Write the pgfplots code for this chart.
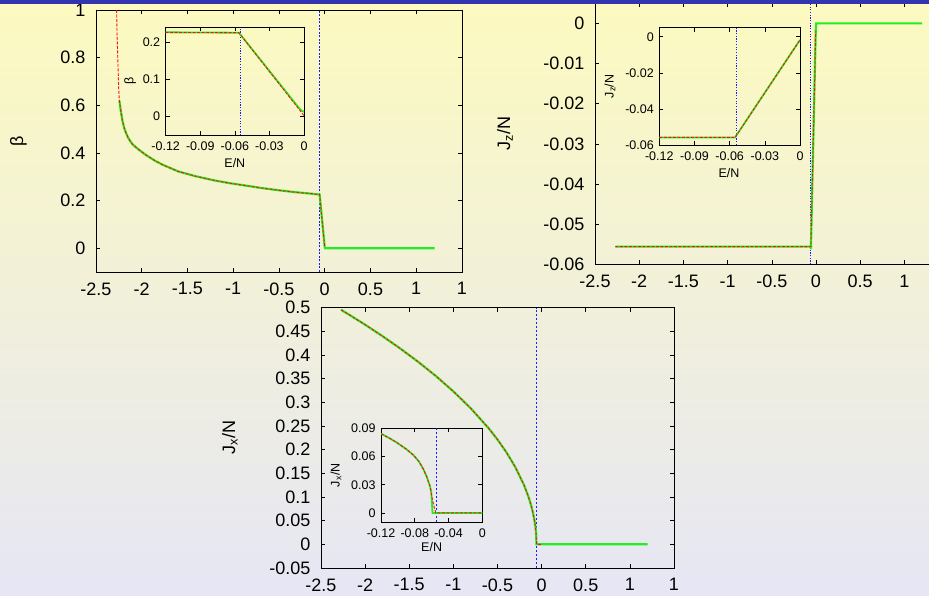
\documentclass[border=0pt]{standalone}
\usepackage{fontspec}
\setmainfont{Liberation Sans}
\usepackage{pgfplots}
\pgfplotsset{compat=1.18}
\definecolor{gnugreen}{HTML}{22EE22}
\definecolor{gnured}{HTML}{FF1010}
\definecolor{gnublue}{HTML}{1A1AFF}
\definecolor{bgtop}{HTML}{FCFABF}
\definecolor{bgbot}{HTML}{E6E6F5}
\definecolor{barblue}{HTML}{3434B0}
\pgfplotsset{
  gp/.style={scale only axis, anchor=south west,
    axis line style={line width=0.8pt, black},
    tick style={line width=0.6pt, black},
    major tick length=4pt, tick align=inside,
    xtick pos=both, ytick pos=both, minor tick num=0, clip=true,
    scaled x ticks=false, scaled y ticks=false},
  mainax/.style={gp, xmin=-2.5, xmax=1.5,
    xtick={-2.5,-2,-1.5,-1,-0.5,0,0.5,1,1.5},
    xticklabels={-2.5,-2,-1.5,-1,-0.5,0,0.5,1,1},
    ticklabel style={font=\fontsize{18}{20}\selectfont},
    label style={font=\fontsize{18}{20}\selectfont},
    xticklabel style={yshift=-7pt}, yticklabel style={xshift=-7pt}},
  insetax/.style={gp, xmin=-0.12, xmax=0,
    ticklabel style={font=\fontsize{12.5}{14}\selectfont},
    label style={font=\fontsize{12.5}{14}\selectfont},
    xticklabel style={yshift=-3pt}, yticklabel style={xshift=-2pt}},
  grn/.style={color=gnugreen, line width=2.2pt, no markers},
  red/.style={color=gnured, line width=0.9pt, dash pattern=on 3pt off 1.5pt, no markers},
  vdot/.style={draw=gnublue, color=gnublue, line width=1pt, dash pattern=on 1.2pt off 1.5pt, no markers},
  vdash/.style={draw=gnublue, color=gnublue, line width=1pt, dash pattern=on 2.5pt off 1.5pt, no markers},
}
\begin{document}
\begin{tikzpicture}
\useasboundingbox (0,0) rectangle (929pt,-596pt);
\clip (0,0) rectangle (929pt,-596pt);
\shade[top color=bgtop, bottom color=bgbot] (0,0) rectangle (929pt,-596pt);

% ---------- Panel 1: beta ----------
\begin{axis}[mainax, at={(96pt,-272pt)}, width=366pt, height=262pt,
  ymin=-0.1, ymax=1, ytick={0,0.2,0.4,0.6,0.8,1}, yticklabels={0,0.2,0.4,0.6,0.8,1},
  ylabel={β}, ylabel style={at={(axis description cs:-0.212,0.5)}, anchor=center}]
\addplot[vdash, dash pattern=on 2pt off 1.5pt] coordinates {(-0.057,-0.1) (-0.057,1)};
\addplot[grn] coordinates {(-2.245,0.620) (-2.238,0.602) (-2.230,0.580) (-2.220,0.555) (-2.210,0.533)
 (-2.191,0.504) (-2.170,0.482) (-2.150,0.465) (-2.125,0.449) (-2.100,0.436) (-2.065,0.424)
 (-2.030,0.413) (-1.950,0.390) (-1.850,0.366) (-1.770,0.350) (-1.600,0.322)
 (-1.410,0.302) (-1.200,0.284) (-1.040,0.273) (-0.850,0.262) (-0.680,0.252) (-0.500,0.243)
 (-0.320,0.235) (-0.150,0.229) (-0.056,0.225) (0.000,0.003) (0.003,0.0) (1.2,0.0)};
\addplot[red] coordinates {(-2.2745,1.00) (-2.270,0.90) (-2.263,0.811) (-2.252,0.672) (-2.245,0.620)
 (-2.238,0.602) (-2.230,0.580) (-2.220,0.555) (-2.210,0.533)
 (-2.191,0.504) (-2.170,0.482) (-2.150,0.465) (-2.125,0.449) (-2.100,0.436) (-2.065,0.424)
 (-2.030,0.413) (-1.950,0.390) (-1.850,0.366) (-1.770,0.350) (-1.600,0.322)
 (-1.410,0.302) (-1.200,0.284) (-1.040,0.273) (-0.850,0.262) (-0.680,0.252) (-0.500,0.243)
 (-0.320,0.235) (-0.150,0.229) (-0.056,0.225) (0.000,0.003)};
\end{axis}

% ---------- Inset 1 ----------
\begin{axis}[insetax, at={(165.7pt,-135.3pt)}, width=138.3pt, height=108pt,
  ymin=-0.05, ymax=0.24, ytick={0,0.1,0.2}, yticklabels={0,0.1,0.2},
  xtick={-0.12,-0.09,-0.06,-0.03,0}, xticklabels={-0.12,-0.09,-0.06,-0.03,0},
  ylabel={β}, ylabel style={at={(axis description cs:-0.258,0.5)}, anchor=center},
  xlabel={E/N}, xlabel style={at={(axis description cs:0.5,-0.259)}, anchor=center}]
\addplot[vdot] coordinates {(-0.0555,-0.05) (-0.0555,0.24)};
\addplot[grn, line width=1.8pt] coordinates {(-0.12,0.2265) (-0.09,0.2260) (-0.0565,0.2255) (-0.003,0.018) (0,0.013)};
\addplot[red] coordinates {(-0.12,0.2265) (-0.09,0.2260) (-0.0565,0.2255) (0,0.003)};
\end{axis}

% ---------- Panel 2: Jz/N ----------
\begin{axis}[mainax, at={(595pt,-264.3pt)}, width=353.6pt, height=261pt,
  xtick={-2.5,-2,-1.5,-1,-0.5,0,0.5,1},
  xticklabels={-2.5,-2,-1.5,-1,-0.5,0,0.5,1},
  ymin=-0.06, ymax=0.005, ytick={-0.06,-0.05,-0.04,-0.03,-0.02,-0.01,0},
  yticklabels={-0.06,-0.05,-0.04,-0.03,-0.02,-0.01,0},
  ylabel={J\textsubscript{z}/N}, ylabel style={at={(axis description cs:-0.2545,0.5)}, anchor=center}]
\addplot[vdot] coordinates {(-0.058,-0.06) (-0.058,0.005)};
\addplot[grn] coordinates {(-2.27,-0.0556) (-0.058,-0.0556) (-0.058,-0.0562) (-0.003,-0.0018) (0.003,0.0) (1.2,0.0)};
\addplot[red] coordinates {(-2.27,-0.0556) (-0.058,-0.0556) (-0.003,-0.0018)};
\end{axis}

% ---------- Inset 2 ----------
\begin{axis}[insetax, at={(659.3pt,-145pt)}, width=140.7pt, height=117.3pt,
  ymin=-0.06, ymax=0.005, ytick={-0.06,-0.04,-0.02,0}, yticklabels={-0.06,-0.04,-0.02,0},
  xtick={-0.12,-0.09,-0.06,-0.03,0}, xticklabels={-0.12,-0.09,-0.06,-0.03,0},
  ylabel={J\textsubscript{z}/N}, ylabel style={at={(axis description cs:-0.35,0.5)}, anchor=center},
  xlabel={E/N}, xlabel style={at={(axis description cs:0.495,-0.239)}, anchor=center}]
\addplot[vdash, dash pattern=on 1.2pt off 1.5pt] coordinates {(-0.0540,-0.06) (-0.0540,0.005)};
\addplot[grn, line width=1.8pt] coordinates {(-0.12,-0.0558) (-0.0554,-0.0558) (0,-0.0018)};
\addplot[red] coordinates {(-0.12,-0.0558) (-0.0554,-0.0558) (0,-0.0018)};
\end{axis}

% ---------- Panel 3: Jx/N ----------
\begin{axis}[mainax, at={(321pt,-568pt)}, width=353pt, height=260.3pt,
  ymin=-0.05, ymax=0.5, ytick={-0.05,0,0.05,0.1,0.15,0.2,0.25,0.3,0.35,0.4,0.45,0.5},
  yticklabels={-0.05,0,0.05,0.1,0.15,0.2,0.25,0.3,0.35,0.4,0.45,0.5},
  ylabel={J\textsubscript{x}/N}, ylabel style={at={(axis description cs:-0.258,0.5)}, anchor=center}]
\addplot[vdash] coordinates {(-0.06,-0.05) (-0.06,0.5)};
\addplot[grn] coordinates {(-2.273,0.4956) (-2.2,0.4874) (-2.0,0.4641) (-1.8,0.4395) (-1.6,0.4135)
 (-1.4,0.3858) (-1.2,0.3559) (-1.0,0.3232) (-0.8,0.2868) (-0.6,0.2452) (-0.5,0.2214) (-0.4,0.1947)
 (-0.3,0.1638) (-0.2,0.1255) (-0.15,0.1010) (-0.12,0.0829) (-0.1,0.0682) (-0.08,0.0494) (-0.07,0.0365)
 (-0.062,0.0211) (-0.058,0.0) (1.2,0.0)};
\addplot[red] coordinates {(-2.273,0.4956) (-2.2,0.4874) (-2.0,0.4641) (-1.8,0.4395) (-1.6,0.4135)
 (-1.4,0.3858) (-1.2,0.3559) (-1.0,0.3232) (-0.8,0.2868) (-0.6,0.2452) (-0.5,0.2214) (-0.4,0.1947)
 (-0.3,0.1638) (-0.2,0.1255) (-0.15,0.1010) (-0.12,0.0829) (-0.1,0.0682) (-0.08,0.0494) (-0.07,0.0365)
 (-0.062,0.0211) (-0.058,0.0) (0.0,0.0)};
\end{axis}

% ---------- Inset 3 ----------
\begin{axis}[insetax, at={(381pt,-522.3pt)}, width=101.3pt, height=94pt,
  ymin=-0.01, ymax=0.09, ytick={0,0.03,0.06,0.09}, yticklabels={0,0.03,0.06,0.09},
  xtick={-0.12,-0.08,-0.04,0}, xticklabels={-0.12,-0.08,-0.04,0},
  ylabel={J\textsubscript{x}/N}, ylabel style={at={(axis description cs:-0.444,0.5)}, anchor=center},
  xlabel={E/N}, xlabel style={at={(axis description cs:0.5,-0.26)}, anchor=center}]
\addplot[vdash] coordinates {(-0.0545,-0.01) (-0.0545,0.09)};
\addplot[grn, line width=1.8pt] coordinates {(-0.12,0.0843) (-0.11,0.0795) (-0.1014,0.0749) (-0.09,0.0678)
 (-0.0817,0.0616) (-0.075,0.0546) (-0.0698,0.0465) (-0.066,0.0389) (-0.0619,0.0282) (-0.0605,0.0226)
 (-0.0595,0.008) (-0.059,0.0) (0,0.0)};
\addplot[red] coordinates {(-0.12,0.0843) (-0.11,0.0795) (-0.1014,0.0749) (-0.09,0.0678)
 (-0.0817,0.0616) (-0.075,0.0546) (-0.0698,0.0465) (-0.066,0.0389) (-0.0619,0.0282) (-0.060,0.018)
 (-0.057,0.006) (-0.055,0.0) (0,0.0)};
\end{axis}

\fill[barblue] (0,0) rectangle (929pt,-3.6pt);
\end{tikzpicture}
\end{document}
